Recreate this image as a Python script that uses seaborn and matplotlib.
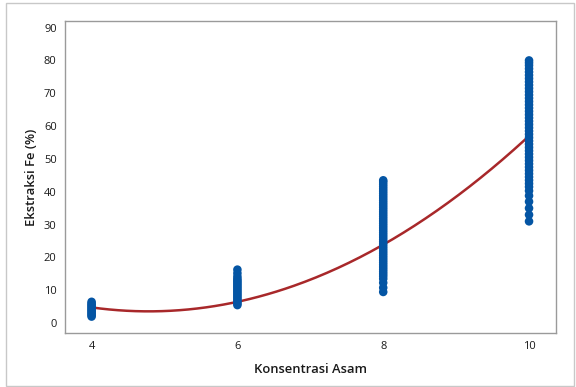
import numpy as np
import pandas as pd
import matplotlib
matplotlib.use("Agg")
import matplotlib.pyplot as plt
import seaborn as sns
from matplotlib.patches import Rectangle

# Observed extraction values per acid concentration
conc_levels = [4, 6, 8, 10]
fe_at_4 = [2.0, 2.4, 2.8, 3.2, 3.6, 4.0, 4.4, 4.8, 5.2, 5.6, 6.0, 6.5]
fe_at_6 = [5.5, 6.0, 6.5, 7.0, 7.5, 8.0, 8.5, 9.0, 9.5, 10.0, 10.5, 11.0,
           11.5, 12.0, 12.5, 13.0, 13.5, 14.2, 15.2, 16.3]
fe_at_8 = [9.5, 10.8, 12.3, 13.5, 14.3, 15.0, 15.7, 16.4, 17.1, 17.8, 18.5,
           19.2, 19.9, 20.6, 21.3, 22.0, 22.7, 23.4, 24.1, 24.8, 25.5, 26.2,
           26.9, 27.6, 28.3, 29.0, 29.7, 30.4, 31.1, 31.8, 32.5, 33.2, 33.9,
           34.6, 35.3, 36.0, 36.7, 37.4, 38.1, 38.8, 39.5, 40.2, 40.9, 41.6,
           42.3, 43.0, 43.5]
fe_at_10 = [31.0, 33.0, 35.0, 37.0, 38.8, 40.3, 41.5, 42.5, 43.5, 44.5, 45.5,
            46.5, 47.5, 48.5, 49.5, 50.5, 51.5, 52.5, 53.5, 54.5, 55.5, 56.5,
            57.5, 58.5, 59.5, 60.5, 61.5, 62.5, 63.5, 64.5, 65.5, 66.5, 67.5,
            68.5, 69.5, 70.5, 71.5, 72.5, 73.5, 74.5, 75.5, 76.5, 77.5, 78.5,
            79.3, 80.0]

# Fitted quadratic regression: Fe = c0 + c1*x + c2*x^2
fit_coef = [48.5, -18.775, 1.9625]

x_ticks = [4, 6, 8, 10]
y_ticks = [0, 10, 20, 30, 40, 50, 60, 70, 80, 90]

groups = [fe_at_4, fe_at_6, fe_at_8, fe_at_10]
df = pd.DataFrame({
    "Konsentrasi Asam": np.concatenate([[c] * len(g) for c, g in zip(conc_levels, groups)]),
    "Ekstraksi Fe (%)": np.concatenate(groups),
})

xs = np.linspace(min(conc_levels), max(conc_levels), 200)
fit_df = pd.DataFrame({"x": xs,
                       "y": fit_coef[0] + fit_coef[1] * xs + fit_coef[2] * xs ** 2})

sns.set_style("white")
plt.rcParams["font.family"] = ["Open Sans", "DejaVu Sans"]

fig = plt.figure(figsize=(5.76, 3.87), dpi=100)
ax = fig.add_axes([0.1128, 0.1395, 0.8525, 0.8062])

blue = "#0455A4"
red = "#A8282A"

sns.lineplot(data=fit_df, x="x", y="y", ax=ax, color=red, linewidth=1.8, zorder=2)
sns.scatterplot(data=df, x="Konsentrasi Asam", y="Ekstraksi Fe (%)", ax=ax,
                color=blue, s=38, edgecolor="none", zorder=3)

ax.set_xlim(3.635, 10.37)
ax.set_ylim(-3.0, 92.0)
ax.set_xticks(x_ticks)
ax.set_yticks(y_ticks)
ax.tick_params(axis="both", direction="out", length=3, width=0.8,
               color="#9A9A9A", labelsize=8, labelcolor="#1A1A1A", pad=3)
for s in ax.spines.values():
    s.set_color("#9A9A9A")
    s.set_linewidth(1.0)

ax.set_xlabel("Konsentrasi Asam", fontsize=9.4, fontweight="semibold",
              color="#1A1A1A", labelpad=8)
ax.set_ylabel("Ekstraksi Fe (%)", fontsize=9.4, fontweight="semibold",
              color="#1A1A1A", labelpad=4)

# Light frame around the whole graph
fig.patches.append(Rectangle((6 / 576, 1 / 387), 568 / 576, 383 / 387,
                             transform=fig.transFigure, fill=False,
                             edgecolor="#C8C8C8", linewidth=1.0))

fig.savefig("out.png", dpi=100)
